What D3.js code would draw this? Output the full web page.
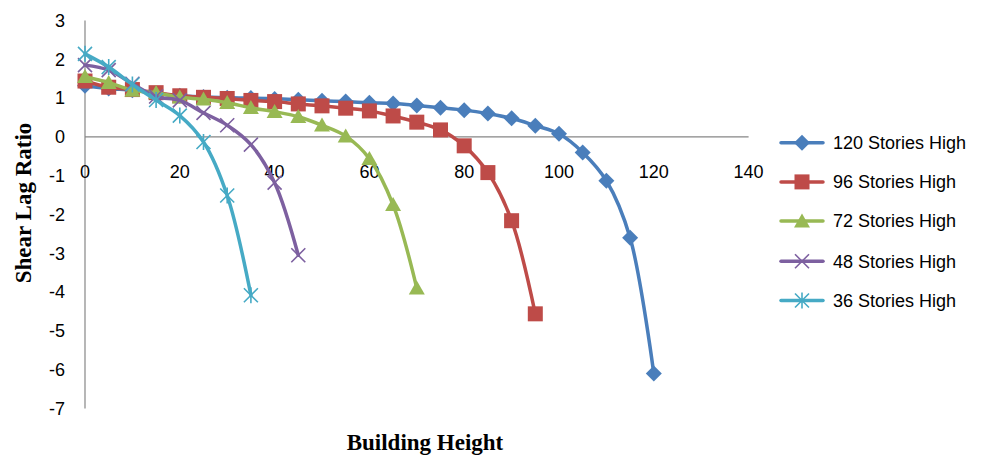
<!DOCTYPE html>
<html>
<head>
<meta charset="utf-8">
<script src="https://cdn.jsdelivr.net/npm/d3@7"></script>
<style>
  html, body { margin: 0; padding: 0; background: #fff; }
  svg { display: block; }
</style>
</head>
<body>
<svg id="chart" width="983" height="456"></svg>
<script>
// ---- data ----
const xTicks = [0, 20, 40, 60, 80, 100, 120, 140];
const yTicks = [3, 2, 1, 0, -1, -2, -3, -4, -5, -6, -7];
const seriesNames = ["120 Stories High", "96 Stories High", "72 Stories High", "48 Stories High", "36 Stories High"];
const heights120 = [0,5,10,15,20,25,30,35,40,45,50,55,60,65,70,75,80,85,90,95,100,105,110,115,120];
const values120 = [1.32,1.25,1.2,1.12,1.06,1.03,1.01,1.0,0.98,0.96,0.93,0.91,0.88,0.86,0.81,0.75,0.69,0.6,0.48,0.29,0.08,-0.4,-1.13,-2.6,-6.1];
const heights96 = [0,5,10,15,20,25,30,35,40,45,50,55,60,65,70,75,80,85,90,95];
const values96 = [1.44,1.28,1.22,1.14,1.06,1.02,0.99,0.94,0.91,0.85,0.8,0.74,0.67,0.54,0.38,0.18,-0.23,-0.92,-2.16,-4.56];
const heights72 = [0,5,10,15,20,25,30,35,40,45,50,55,60,65,70];
const values72 = [1.55,1.4,1.2,1.14,1.02,0.97,0.88,0.75,0.65,0.52,0.3,0.02,-0.56,-1.75,-3.9];
const heights48 = [0,5,10,15,20,25,30,35,40,45];
const values48 = [1.85,1.72,1.37,1.04,0.94,0.62,0.3,-0.2,-1.18,-3.05];
const heights36 = [0,5,10,15,20,25,30,35];
const values36 = [2.14,1.8,1.35,0.95,0.55,-0.13,-1.51,-4.08];

// ---- styling ----
const colors = ["#4A7EBB", "#BE4B48", "#98B954", "#7D60A0", "#46AAC5"];
const markerTypes = ["diamond", "square", "triangle", "x", "star"];

const svg = d3.select("#chart");
const x = d3.scaleLinear().domain([0, 140]).range([85, 748.6]);
const y = d3.scaleLinear().domain([-7, 3]).range([408.5, 20.5]);

// axes lines
svg.append("line").attr("x1", x(0)).attr("x2", x(140)).attr("y1", y(0)).attr("y2", y(0))
  .attr("stroke", "#868686").attr("stroke-width", 1.2);
svg.append("line").attr("x1", x(0)).attr("x2", x(0)).attr("y1", y(3)).attr("y2", y(-7))
  .attr("stroke", "#868686").attr("stroke-width", 1.2);

// y tick labels
svg.append("g").selectAll("text").data(yTicks).enter().append("text")
  .attr("x", 65).attr("y", d => y(d)).attr("dy", "0.35em")
  .attr("text-anchor", "end")
  .attr("font-family", "Liberation Sans, Arial, sans-serif").attr("font-size", 18)
  .attr("fill", "#000").text(d => d);

// x tick labels
svg.append("g").selectAll("text").data(xTicks).enter().append("text")
  .attr("x", d => x(d)).attr("y", y(0) + 35).attr("dy", "0.35em")
  .attr("text-anchor", "middle")
  .attr("font-family", "Liberation Sans, Arial, sans-serif").attr("font-size", 18)
  .attr("fill", "#000").text(d => d);

// axis titles
svg.append("text").attr("x", 425).attr("y", 450).attr("text-anchor", "middle")
  .attr("font-family", "Liberation Serif, Times New Roman, serif").attr("font-weight", "bold")
  .attr("font-size", 23).text("Building Height");
svg.append("text").attr("transform", "translate(31,203) rotate(-90)").attr("text-anchor", "middle")
  .attr("font-family", "Liberation Serif, Times New Roman, serif").attr("font-weight", "bold")
  .attr("font-size", 23).text("Shear Lag Ratio");

// marker drawing
function drawMarker(g, type, color, cx, cy) {
  if (type === "diamond") {
    const s = 8;
    g.append("path").attr("d", `M${cx},${cy-s}L${cx+s},${cy}L${cx},${cy+s}L${cx-s},${cy}Z`).attr("fill", color);
  } else if (type === "square") {
    const s = 7.5;
    g.append("rect").attr("x", cx - s).attr("y", cy - s).attr("width", 2*s).attr("height", 2*s).attr("fill", color);
  } else if (type === "triangle") {
    const w = 8, h = 14;
    g.append("path").attr("d", `M${cx},${cy-h*0.55}L${cx+w},${cy+h*0.45}L${cx-w},${cy+h*0.45}Z`).attr("fill", color);
  } else if (type === "x") {
    const s = 7;
    g.append("path").attr("d", `M${cx-s},${cy-s}L${cx+s},${cy+s}M${cx-s},${cy+s}L${cx+s},${cy-s}`)
      .attr("stroke", color).attr("stroke-width", 1.6).attr("fill", "none");
  } else if (type === "star") {
    const s = 7;
    g.append("path").attr("d", `M${cx-s},${cy-s}L${cx+s},${cy+s}M${cx-s},${cy+s}L${cx+s},${cy-s}M${cx},${cy-s-1}L${cx},${cy+s+1}`)
      .attr("stroke", color).attr("stroke-width", 1.6).attr("fill", "none");
  }
}

const seriesData = [
  heights120.map((h, i) => [h, values120[i]]),
  heights96.map((h, i) => [h, values96[i]]),
  heights72.map((h, i) => [h, values72[i]]),
  heights48.map((h, i) => [h, values48[i]]),
  heights36.map((h, i) => [h, values36[i]])
];

const line = d3.line().x(d => x(d[0])).y(d => y(d[1])).curve(d3.curveCatmullRom.alpha(0.5));

seriesData.forEach((data, si) => {
  const g = svg.append("g");
  g.append("path").attr("d", line(data)).attr("fill", "none")
    .attr("stroke", colors[si]).attr("stroke-width", 3.5).attr("stroke-linejoin", "round").attr("stroke-linecap", "round");
  data.forEach(d => drawMarker(g, markerTypes[si], colors[si], x(d[0]), y(d[1])));
});

// legend
const legendY = [142.7, 181.9, 221.1, 261.3, 300.5];
seriesNames.forEach((name, i) => {
  const g = svg.append("g");
  const ly = legendY[i];
  g.append("line").attr("x1", 781).attr("x2", 823).attr("y1", ly).attr("y2", ly)
    .attr("stroke", colors[i]).attr("stroke-width", 3.5).attr("stroke-linecap", "round");
  drawMarker(g, markerTypes[i], colors[i], 802, ly);
  g.append("text").attr("x", 833).attr("y", ly).attr("dy", "0.35em")
    .attr("font-family", "Liberation Sans, Arial, sans-serif").attr("font-size", 18)
    .attr("fill", "#000").text(name);
});
</script>
</body>
</html>
